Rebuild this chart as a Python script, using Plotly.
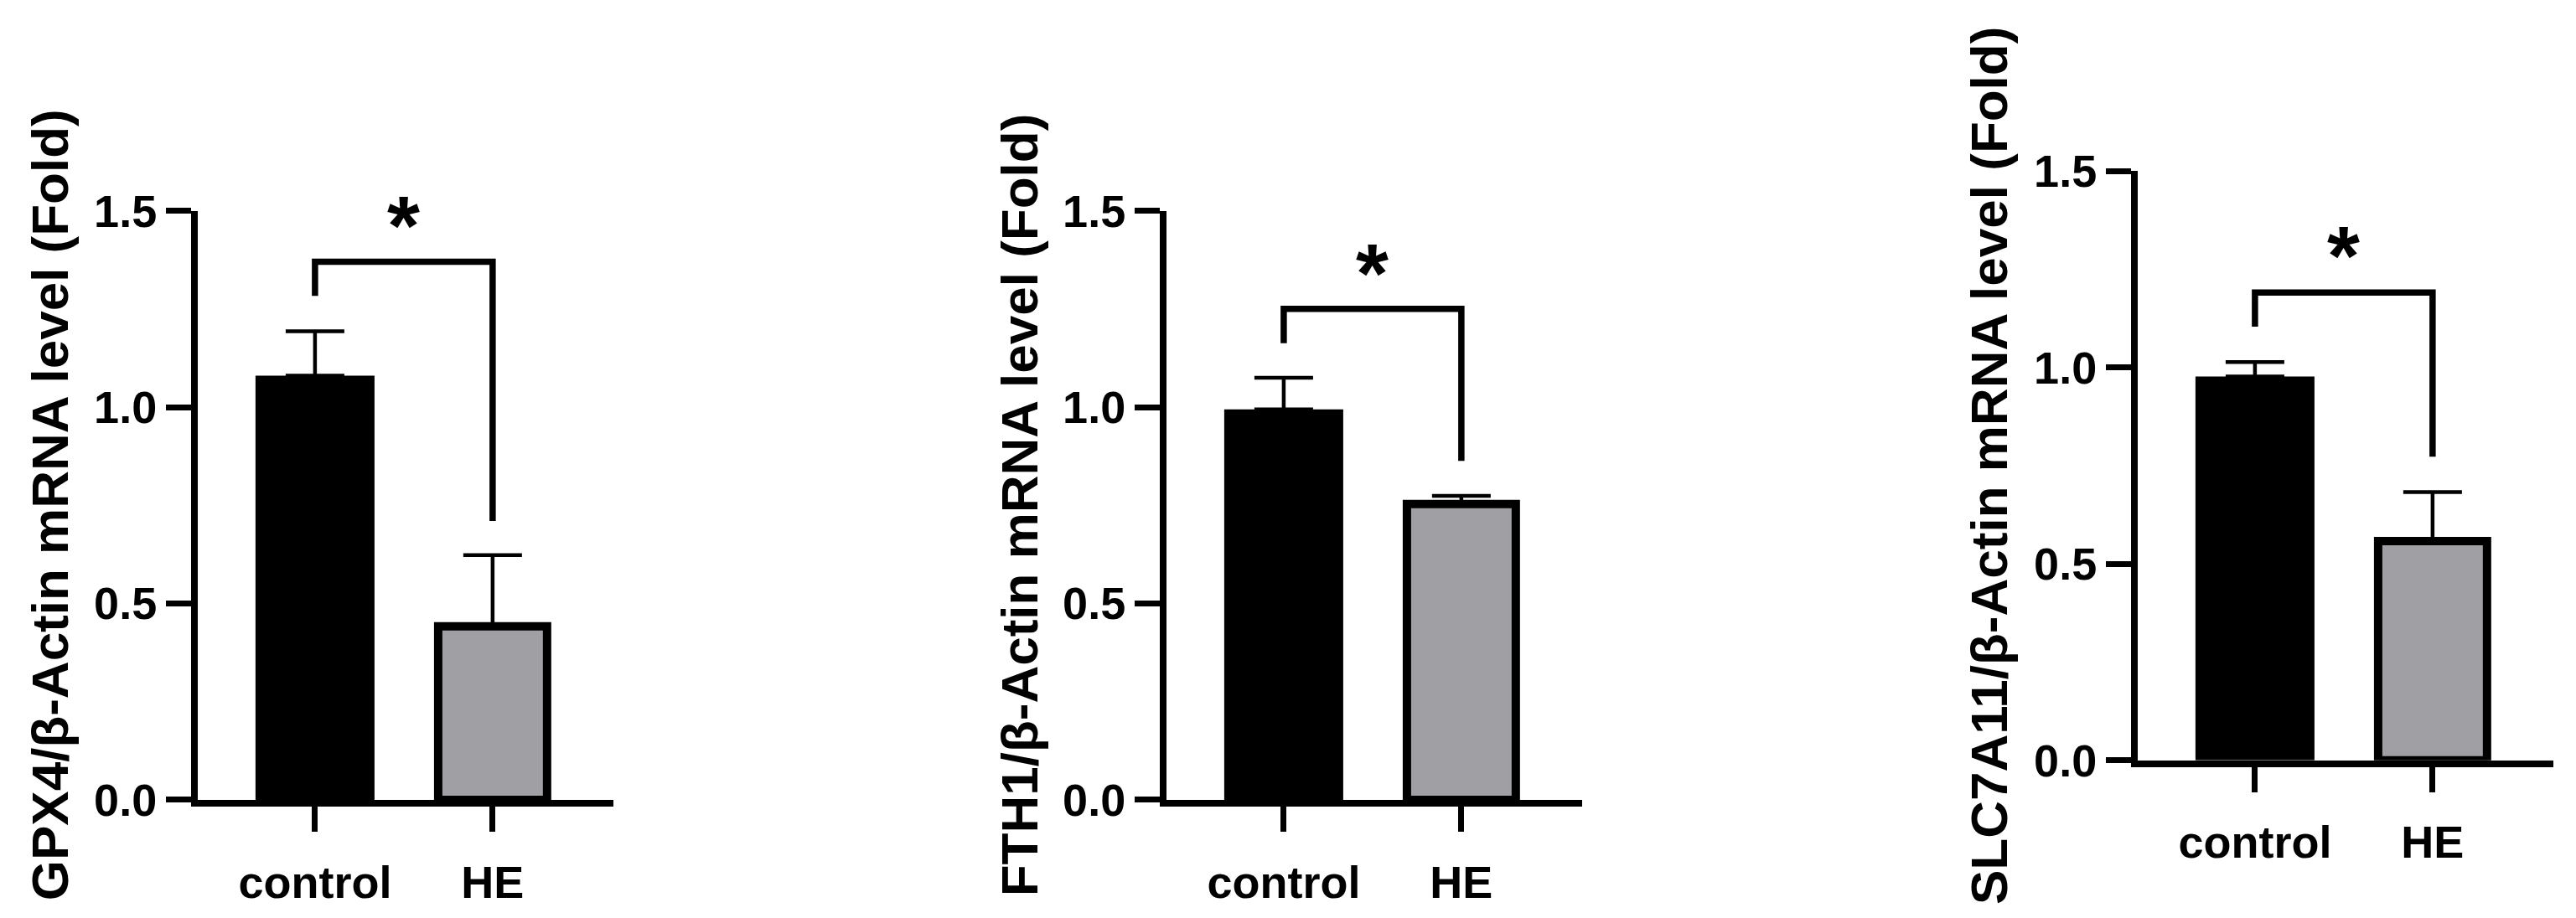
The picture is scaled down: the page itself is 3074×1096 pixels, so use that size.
import plotly.graph_objects as go

# ---------------- data ----------------
categories = ["control", "HE"]
titles = ["GPX4/β-Actin mRNA level (Fold)",
          "FTH1/β-Actin mRNA level (Fold)",
          "SLC7A11/β-Actin mRNA level (Fold)"]

gpx4_mean = [1.080, 0.442]
gpx4_err = [0.113, 0.181]
fth1_mean = [0.994, 0.753]
fth1_err = [0.081, 0.021]
slc7a11_mean = [0.977, 0.558]
slc7a11_err = [0.037, 0.125]

# significance bracket: [left leg bottom, bracket top, right leg bottom]
gpx4_bracket = [1.283, 1.370, 0.710]
fth1_bracket = [1.163, 1.250, 0.863]
slc7a11_bracket = [1.104, 1.191, 0.773]
star_levels = [1.474, 1.352, 1.296]
star_text = ["*", "*", "*"]

ytick_vals = [0.0, 0.5, 1.0, 1.5]
ytick_text = ["0.0", "0.5", "1.0", "1.5"]

means = [gpx4_mean, fth1_mean, slc7a11_mean]
errs = [gpx4_err, fth1_err, slc7a11_err]
brackets = [gpx4_bracket, fth1_bracket, slc7a11_bracket]

# ---------------- layout geometry (pixels) ----------------
W, H = 3074, 1096
panels = [(228, 724, 226, 970), (1384, 1880, 226, 970), (2543, 3039, 176, 920)]
title_x = [51, 1208, 2365]

FONT = "Liberation Sans, Arial, sans-serif"
GRAY = "#a0a0a4"

fig = go.Figure()
layout = dict(width=W, height=H, margin=dict(l=0, r=0, t=0, b=0),
              paper_bgcolor="white", plot_bgcolor="white",
              showlegend=False, annotations=[])

for i in range(3):
    xa = "x" if i == 0 else f"x{i+1}"
    ya = "y" if i == 0 else f"y{i+1}"
    l, r, t, b = panels[i]
    fig.add_trace(go.Bar(
        x=categories, y=means[i], xaxis=xa, yaxis=ya,
        width=[0.67, 0.613],
        marker=dict(color=["black", GRAY], line=dict(color="black", width=[0, 10])),
        error_y=dict(type="data", symmetric=False, array=errs[i], arrayminus=[0, 0],
                     color="black", thickness=4.5, width=35),
    ))
    br = brackets[i]
    fig.add_trace(go.Scatter(
        x=[categories[0], categories[0], categories[1], categories[1]],
        y=[br[0], br[1], br[1], br[2]],
        mode="lines", line=dict(color="black", width=7.5),
        xaxis=xa, yaxis=ya, cliponaxis=False, hoverinfo="skip"))

    axis_common = dict(showline=True, linecolor="black", linewidth=8,
                       ticks="outside", tickcolor="black", tickwidth=7,
                       showgrid=False, zeroline=False,
                       tickfont=dict(family=FONT, size=54, color="black", weight="bold"))
    xkey = "xaxis" if i == 0 else f"xaxis{i+1}"
    ykey = "yaxis" if i == 0 else f"yaxis{i+1}"
    layout[xkey] = dict(axis_common, domain=[l / W, r / W], anchor=ya,
                        type="category", range=[-0.66, 1.68], ticklen=30,
                        ticklabelstandoff=14)
    layout[ykey] = dict(axis_common, domain=[1 - b / H, 1 - t / H], anchor=xa,
                        range=[0, 1.5], tickvals=ytick_vals, ticktext=ytick_text,
                        ticklen=30)
    layout["annotations"].append(dict(
        x=0.5, y=star_levels[i], xref=xa, yref=ya, text=star_text[i],
        showarrow=False, xanchor="center", yanchor="middle", yshift=-5,
        font=dict(family=FONT, size=100, color="black", weight="bold")))
    layout["annotations"].append(dict(
        x=title_x[i] / W, y=1 - (t + b) / 2 / H, xref="paper", yref="paper",
        text=titles[i], textangle=-90, showarrow=False,
        xanchor="center", yanchor="middle",
        font=dict(family=FONT, size=62, color="black", weight="bold")))

fig.update_layout(**layout)
fig.write_html("out.html")
